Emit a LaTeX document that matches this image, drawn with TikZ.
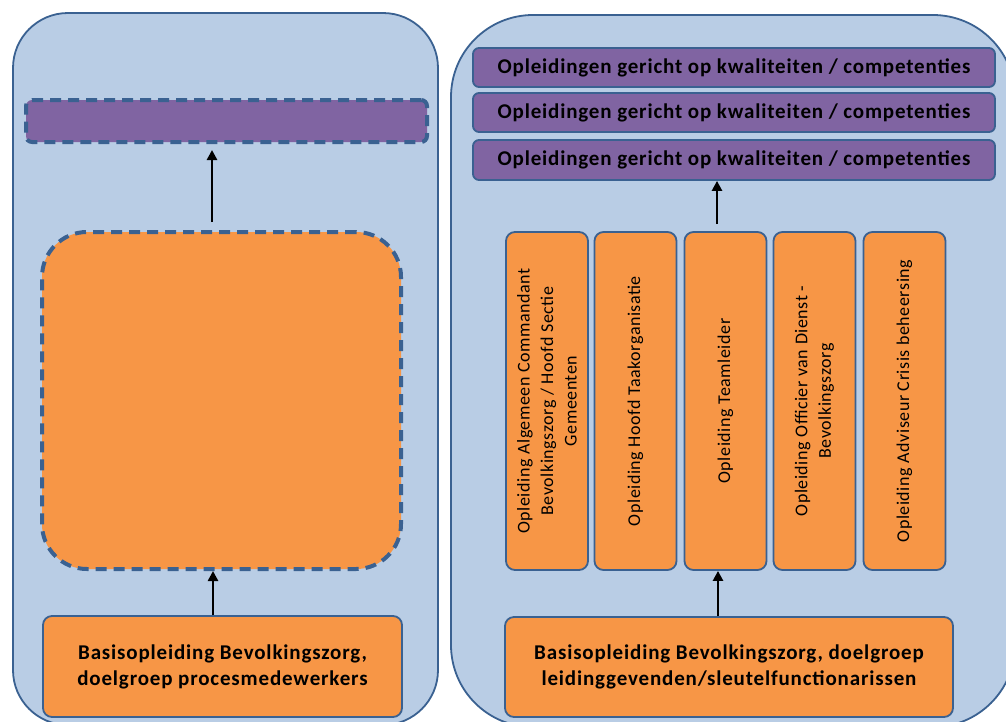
\documentclass[tikz,border=0pt]{standalone}
\usepackage{fontspec}
\setmainfont{Carlito}
\newfontfamily\widefont{Carlito}[LetterSpace=4.0]
\newfontfamily\vwidefont{Carlito}[LetterSpace=3.0]
\usetikzlibrary{arrows.meta}
\definecolor{panelfill}{HTML}{B9CDE5}
\definecolor{edgeblue}{HTML}{3A6191}
\definecolor{boxorange}{HTML}{F79646}
\definecolor{boxpurple}{HTML}{8064A2}
\tikzset{
  panel/.style={draw=edgeblue, fill=panelfill, line width=1.8pt, rectangle, inner sep=0pt},
  obox/.style={draw=edgeblue, fill=boxorange, line width=1.8pt, rectangle, rounded corners=9pt, inner sep=0pt, align=center, font=\widefont\fontsize{21}{26}\selectfont\bfseries},
  pbar/.style={draw=edgeblue, fill=boxpurple, line width=1.8pt, rectangle, rounded corners=6pt, inner sep=0pt, minimum width=522pt, font=\widefont\fontsize{21}{24}\selectfont\bfseries},
  dashedge/.style={draw=edgeblue, line width=4pt, dash pattern=on 11pt off 7pt},
  vbox/.style={draw=edgeblue, fill=boxorange, line width=1.8pt, rectangle, rounded corners=9pt, inner sep=0pt, minimum width=82pt, minimum height=338pt},
  vtext/.style={rotate=90, align=center, inner sep=0pt, font=\vwidefont\fontsize{18}{23.5}\selectfont},
  arr/.style={draw=black, line width=2.8pt, -{Triangle[length=10pt,width=10pt]}}
}
\begin{document}
\begin{tikzpicture}[x=1pt,y=-1pt]
\useasboundingbox (0,0) rectangle (1006,721);
\clip (0,0) rectangle (1006,721);
\fill[white] (0,0) rectangle (1006,721);
% panels
\node[panel, rounded corners=55pt, minimum width=425pt, minimum height=712pt] (lp) at (225.5,369) {};
\node[panel, rounded corners=82pt, minimum width=564pt, minimum height=712pt] (rp) at (733,371) {};
% left column
\node[fill=boxpurple, dashedge, rectangle, rounded corners=6pt, minimum width=401pt, minimum height=42pt, inner sep=0pt] (lbar) at (226.5,121) {};
\node[fill=boxorange, dashedge, rectangle, rounded corners=45pt, minimum width=359pt, minimum height=337pt, inner sep=0pt] (db) at (221.5,400.5) {};
\node[obox, minimum width=359pt, minimum height=101pt] (bl) at (222.5,666.5) {Basisopleiding Bevolkingszorg,\\doelgroep procesmedewerkers};
% right column
\node[pbar, minimum height=39pt] (b1) at (734,67.5) {Opleidingen gericht op kwaliteiten / competenties};
\node[pbar, minimum height=39pt] (b2) at (734,112.5) {Opleidingen gericht op kwaliteiten / competenties};
\node[pbar, minimum height=40pt] (b3) at (734,160) {Opleidingen gericht op kwaliteiten / competenties};
\node[vbox] (v1) at (547,401) {};
\node[vbox] (v2) at (635.5,401) {};
\node[vbox] (v3) at (725.5,401) {};
\node[vbox] (v4) at (814.5,401) {};
\node[vbox] (v5) at (904.5,401) {};
\node[vtext] (t1) at (v1.center) {Opleiding Algemeen Commandant\\Bevolkingszorg / Hoofd Sectie\\Gemeenten};
\node[vtext] (t2) at (v2.center) {Opleiding Hoofd Taakorganisatie};
\node[vtext] (t3) at (v3.center) {Opleiding Teamleider};
\node[vtext] (t4) at (v4.center) {Opleiding Officier van Dienst -\\Bevolkingszorg};
\node[vtext] (t5) at (v5.center) {Opleiding Adviseur Crisis beheersing};
\node[obox, minimum width=448pt, minimum height=100pt] (br) at (729,667) {Basisopleiding Bevolkingszorg, doelgroep\\leidinggevenden/sleutelfunctionarissen};
% arrows
\draw[arr] ([xshift=-9.5pt]bl.north) -- ([xshift=-9.5pt]bl.north |- db.south);
\draw[arr, shorten <=8pt, shorten >=6pt] ([xshift=-9.5pt]db.north) -- ([xshift=-9.5pt]db.north |- lbar.south);
\draw[arr] ([xshift=-11pt]br.north) -- ([xshift=-11pt]br.north |- v3.south);
\draw[arr, shorten <=7pt] ([xshift=-8.5pt]v3.north) -- ([xshift=-8.5pt]v3.north |- b3.south);
\end{tikzpicture}
\end{document}
